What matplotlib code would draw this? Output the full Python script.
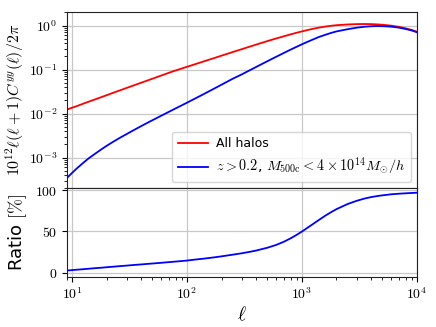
import numpy as np
import matplotlib
matplotlib.use("Agg")
import matplotlib.pyplot as plt
from matplotlib.ticker import FuncFormatter, LogLocator, FixedLocator

plt.rcParams['mathtext.fontset'] = 'cm'
plt.rcParams['font.family'] = 'DejaVu Sans'

# multipoles
ell = [9, 10, 11, 12.5, 14, 16, 18, 20, 23, 26, 30, 35, 40, 45, 50, 60, 70,
       80, 90, 100, 120, 140, 160, 180, 200, 250, 300, 350, 400, 500, 600,
       700, 800, 900, 1000, 1200, 1400, 1600, 1800, 2000, 2500, 3000, 3500,
       4000, 4500, 5000, 6000, 7000, 8000, 9000, 10000]

# 10^12 l(l+1) C^yy / 2pi, all halos
cl_all = [0.0123, 0.0136, 0.0148, 0.0168, 0.0187, 0.0212, 0.0237, 0.0262,
          0.0300, 0.0336, 0.0385, 0.0445, 0.0504, 0.0563, 0.0621, 0.0737,
          0.0852, 0.0960, 0.106, 0.116, 0.135, 0.154, 0.172, 0.190, 0.208,
          0.251, 0.292, 0.332, 0.371, 0.445, 0.513, 0.575, 0.635, 0.69, 0.74,
          0.83, 0.90, 0.955, 0.995, 1.025, 1.065, 1.085, 1.09, 1.085, 1.07,
          1.05, 1.0, 0.94, 0.87, 0.80, 0.73]

# z > 0.2, M500c < 4e14 Msun/h
cl_cut = [3.4e-4, 4.47e-4, 5.65e-4, 7.57e-4, 9.66e-4, 1.24e-3, 1.54e-3,
          1.85e-3, 2.32e-3, 2.8e-3, 3.45e-3, 4.31e-3, 5.2e-3, 6.12e-3,
          7.06e-3, 9.0e-3, 0.01106, 0.0132, 0.0154, 0.0177, 0.0226, 0.0278,
          0.0334, 0.0393, 0.0455, 0.0620, 0.078, 0.0961, 0.115, 0.155, 0.197,
          0.241, 0.286, 0.331, 0.377, 0.464, 0.55, 0.62, 0.685, 0.74, 0.83,
          0.90, 0.945, 0.97, 0.98, 0.975, 0.95, 0.90, 0.84, 0.78, 0.71]

# ratio in percent
ratio = [2.4, 2.9, 3.4, 4.0, 4.6, 5.3, 5.8, 6.4, 7.1, 7.7, 8.4, 9.2, 9.8,
         10.4, 10.9, 11.8, 12.6, 13.3, 13.9, 14.5, 15.8, 16.8, 17.8, 18.7,
         19.6, 21.6, 23.3, 25.0, 26.6, 30.0, 33.5, 37.4, 41.5, 45.6, 49.6,
         57.1, 63.5, 68.9, 73.2, 76.8, 83.0, 86.9, 89.6, 91.4, 92.6, 93.5,
         94.8, 95.5, 96.0, 96.4, 96.7]

label_all = 'All halos'
label_cut = r'$z > 0.2$, $M_{\rm 500c} < 4\times10^{14}M_{\odot}/h$'

fig = plt.figure(figsize=(4.36, 3.27), dpi=100)
ax1 = fig.add_axes([0.153, 0.424, 0.803, 0.538])
ax2 = fig.add_axes([0.153, 0.154, 0.803, 0.270], sharex=ax1)

ax1.plot(ell, cl_all, color='#ff0000', lw=1.3, label=label_all)
ax1.plot(ell, cl_cut, color='#0000ff', lw=1.3, label=label_cut)
ax1.set_xscale('log')
ax1.set_yscale('log')
ax1.set_xlim(9, 1e4)
ax1.set_ylim(2e-4, 2)
ax1.grid(True, color='#c8c8c8', lw=0.9)
ax1.tick_params(labelbottom=False, labelsize=10)
ax1.yaxis.set_major_locator(LogLocator(base=10, numticks=10))
ax1.yaxis.set_major_formatter(FuncFormatter(
    lambda v, p: r'$10^{%d}$' % round(np.log10(v))))
ax1.set_ylabel(r'$10^{12}\ell(\ell+1)C^{yy}(\ell)/2\pi$', fontsize=11.5, labelpad=2)
leg = ax1.legend(loc='lower right', fontsize=9, handlelength=2.4,
                 handletextpad=0.65, borderpad=0.45, borderaxespad=0.5,
                 framealpha=0.8)
leg.get_texts()[1].set_fontsize(10.3)

ax2.plot(ell, ratio, color='#0000ff', lw=1.3)
ax2.set_ylim(-5, 102)
ax2.yaxis.set_major_locator(FixedLocator([0, 50, 100]))
ax2.yaxis.set_major_formatter(FuncFormatter(lambda v, p: r'$%d$' % v))
ax2.xaxis.set_major_formatter(FuncFormatter(
    lambda v, p: r'$10^{%d}$' % round(np.log10(v))))
ax2.grid(True, color='#c8c8c8', lw=0.9)
ax2.tick_params(labelsize=10)
ax2.set_ylabel(r'Ratio $[\%]$', fontsize=13, labelpad=4)
ax2.set_xlabel(r'$\ell$', fontsize=14, labelpad=2)

for ax in (ax1, ax2):
    for s in ax.spines.values():
        s.set_color('#222222')

fig.align_ylabels([ax1, ax2])
fig.savefig('out.png', dpi=100)
